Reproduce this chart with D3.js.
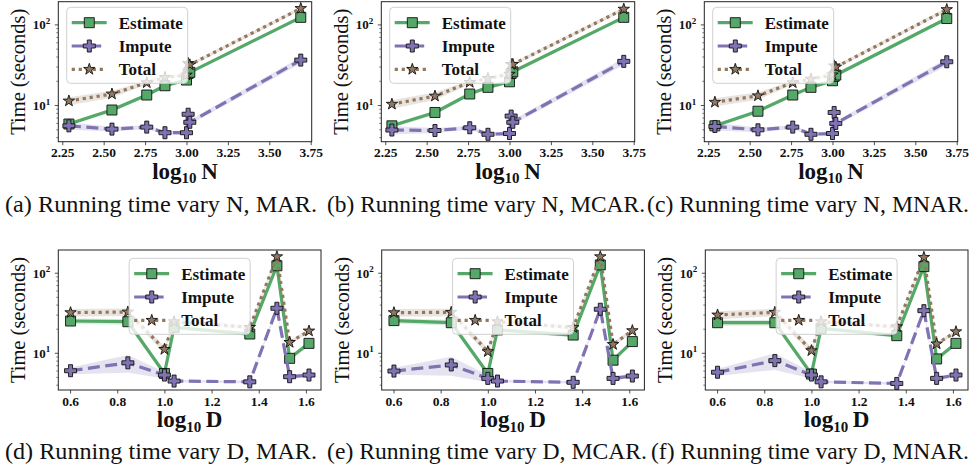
<!DOCTYPE html>
<html><head><meta charset="utf-8">
<script src="https://cdn.jsdelivr.net/npm/d3@7"></script>
<style>body{margin:0;background:#fff}svg{display:block}</style>
</head><body><svg id="c" width="972" height="470"></svg>
<script>
// ---------- data ----------
const xN = [2.29, 2.55, 2.76, 2.87, 3.00, 3.01, 3.02, 3.69];
const xD = [0.602, 0.845, 1.000, 1.041, 1.362, 1.477, 1.531, 1.613];
const xTicksN = [2.25, 2.50, 2.75, 3.00, 3.25, 3.50, 3.75];
const xTicksD = [0.6, 0.8, 1.0, 1.2, 1.4, 1.6];
const yTicks = [10, 100];
const seriesNames = ["Estimate", "Impute", "Total"];

const estNMar  = [5.9, 8.8, 13.5, 17.6, 20.7, 25.0, 25.8, 124];
const impNMar  = [5.6, 5.1, 5.4, 4.6, 4.6, 7.8, 6.2, 36.6];
const totNMar  = [11.4, 13.9, 19.2, 22.3, 23.9, 33.3, 32.0, 160];
const estNMcar = [5.6, 8.2, 13.9, 16.8, 19.7, 25.0, 26.2, 124];
const impNMcar = [4.97, 4.9, 5.3, 4.4, 4.5, 7.4, 6.2, 35.3];
const totNMcar = [10.4, 13.1, 19.4, 21.7, 24.5, 32.4, 32.4, 157];
const estNMnar = [5.6, 8.5, 13.5, 16.8, 20.3, 23.0, 23.9, 120];
const impNMnar = [5.5, 5.0, 5.4, 4.4, 4.5, 8.2, 6.0, 34.9];
const totNMnar = [11.0, 13.2, 19.2, 21.3, 24.0, 31.1, 30.0, 155];

const estDMar  = [25.3, 24.8, 5.6, 21.1, 17.4, 124, 8.65, 13.3];
const impDMar  = [6.06, 7.6, 5.35, 4.5, 4.4, 36.5, 5.1, 5.35];
const totDMar  = [32.2, 32.8, 11.2, 24.8, 21.1, 161, 13.7, 19.0];
const estDMcar = [25.6, 24.1, 5.6, 19.6, 16.9, 127, 8.2, 14.0];
const impDMcar = [6.0, 7.15, 4.86, 4.5, 4.34, 35.5, 4.86, 5.2];
const totDMcar = [32.2, 32.5, 10.5, 24.8, 21.0, 161, 12.9, 19.2];
const estDMnar = [24.1, 24.1, 5.5, 20.5, 16.6, 121, 8.5, 13.3];
const impDMnar = [5.8, 8.1, 5.35, 4.4, 4.2, 34.1, 4.86, 5.35];
const totDMnar = [30.1, 32.5, 10.8, 24.8, 21.5, 158, 13.1, 18.6];

// spread (std, seconds) for the shaded bands
const estSdN = [0.3, 0.5, 0.6, 0.8, 1.0, 1.2, 1.2, 6];
const impSdN = [0.6, 0.35, 0.3, 0.25, 0.25, 0.5, 0.4, 3.5];
const totSdN = [1.3, 1.4, 1.0, 1.0, 1.2, 1.5, 1.5, 8];
const estSdD = [2.0, 2.0, 0.4, 1.2, 1.0, 8, 0.6, 0.8];
const impSdD = [0.6, 1.9, 0.5, 0.15, 0.15, 2.5, 0.3, 0.3];
const totSdD = [3.5, 3.5, 1.0, 1.2, 1.2, 10, 0.8, 1.0];

const captions = [
  "(a) Running time vary N, MAR.", "(b) Running time vary N, MCAR.", "(c) Running time vary N, MNAR.",
  "(d) Running time vary D, MAR.", "(e) Running time vary D, MCAR.", "(f) Running time vary D, MNAR."];

// ---------- layout ----------
const colors = {Estimate: "#55A868", Impute: "#8172B3", Total: "#937860"};
const svg = d3.select("#c");
const serif = "'Liberation Serif','Times New Roman',serif";

const panels = [
  {x: xN, ys: [estNMar, impNMar, totNMar], sds: [estSdN, impSdN, totSdN], left: 58.3, top: 1.7, w: 253.4, row: 0, cap: 0, cx: 5, cw: 312},
  {x: xN, ys: [estNMcar, impNMcar, totNMcar], sds: [estSdN, impSdN, totSdN], left: 381.3, top: 1.7, w: 253.4, row: 0, cap: 1, cx: 327, cw: 318},
  {x: xN, ys: [estNMnar, impNMnar, totNMnar], sds: [estSdN, impSdN, totSdN], left: 704.3, top: 1.7, w: 253.4, row: 0, cap: 2, cx: 647, cw: 322},
  {x: xD, ys: [estDMar, impDMar, totDMar], sds: [estSdD, impSdD, totSdD], left: 58.3, top: 250, w: 262.7, row: 1, cap: 3, cx: 5, cw: 312},
  {x: xD, ys: [estDMcar, impDMcar, totDMcar], sds: [estSdD, impSdD, totSdD], left: 381.7, top: 250, w: 262.7, row: 1, cap: 4, cx: 327, cw: 320},
  {x: xD, ys: [estDMnar, impDMnar, totDMnar], sds: [estSdD, impSdD, totSdD], left: 705.3, top: 250, w: 262.7, row: 1, cap: 5, cx: 651, cw: 318}
];
const PH = 140;

function starPath(R) {
  const r = R * 0.381966; let p = [];
  for (let i = 0; i < 10; i++) {
    const a = -Math.PI / 2 + i * Math.PI / 5, rr = i % 2 ? r : R;
    p.push([rr * Math.cos(a), rr * Math.sin(a)]);
  }
  return "M" + p.map(q => q[0].toFixed(2) + "," + q[1].toFixed(2)).join("L") + "Z";
}
function plusPath(s) {
  const a = s / 2, b = s / 6;
  return `M${-b},${-a}H${b}V${-b}H${a}V${b}H${b}V${a}H${-b}V${b}H${-a}V${-b}H${-b}Z`;
}
const markerPath = {Estimate: "M-5,-5H5V5H-5Z", Impute: plusPath(12), Total: starPath(6)};
const dash = {Estimate: null, Impute: "12,5.5", Total: "3.2,3.8"};

panels.forEach((P, pi) => {
  const isN = P.row === 0;
  const x = d3.scaleLinear().domain(isN ? [2.226, 3.756] : [0.55, 1.664]).range([0, P.w]);
  const y = d3.scaleLog().domain(isN ? [3.56, 194] : [3.48, 195]).range([PH, 0]);
  const g = svg.append("g").attr("transform", `translate(${P.left},${P.top})`);
  const cid = "clip" + pi;
  g.append("clipPath").attr("id", cid).append("rect").attr("width", P.w).attr("height", PH);
  const plot = g.append("g").attr("clip-path", `url(#${cid})`);

  seriesNames.forEach((name, si) => {
    const vals = P.ys[si], sd = P.sds[si];
    const pts = P.x.map((xv, i) => ({x: xv, y: vals[i], lo: Math.max(vals[i] - sd[i], 0.1), hi: vals[i] + sd[i]}));
    plot.append("path").datum(pts)
      .attr("d", d3.area().x(d => x(d.x)).y0(d => y(d.lo)).y1(d => y(d.hi)))
      .attr("fill", colors[name]).attr("fill-opacity", 0.2);
    plot.append("path").datum(pts)
      .attr("d", d3.line().x(d => x(d.x)).y(d => y(d.y)))
      .attr("fill", "none").attr("stroke", colors[name]).attr("stroke-width", 3.2)
      .attr("stroke-dasharray", dash[name]).attr("stroke-linejoin", "round");
    plot.selectAll(null).data(pts).enter().append("path")
      .attr("transform", d => `translate(${x(d.x)},${y(d.y)})`)
      .attr("d", markerPath[name]).attr("fill", colors[name])
      .attr("stroke", "#111").attr("stroke-width", 0.9);
  });

  // axes
  const xAxis = d3.axisBottom(x).tickValues(isN ? xTicksN : xTicksD)
    .tickFormat(d3.format(isN ? ".2f" : ".1f")).tickSize(3.5).tickPadding(2.5);
  const xa = g.append("g").attr("transform", `translate(0,${PH})`).call(xAxis);
  xa.select(".domain").remove();
  xa.selectAll("text").attr("font-family", serif).attr("font-weight", "bold").attr("font-size", 13.5).attr("fill", "#111");
  xa.selectAll("line").attr("stroke", "#222").attr("stroke-width", 0.8);

  const minor = [];
  [1, 10, 100].forEach(dec => { for (let k = 2; k <= 9; k++) { const v = dec * k; if (v >= y.domain()[0] && v <= y.domain()[1]) minor.push(v); } });
  const ya = g.append("g");
  ya.selectAll(".mn").data(minor).enter().append("line")
    .attr("x1", 0).attr("x2", -2).attr("y1", d => y(d)).attr("y2", d => y(d))
    .attr("stroke", "#222").attr("stroke-width", 0.6);
  ya.selectAll(".mj").data(yTicks).enter().append("line")
    .attr("x1", 0).attr("x2", -3.5).attr("y1", d => y(d)).attr("y2", d => y(d))
    .attr("stroke", "#222").attr("stroke-width", 0.8);
  const tl = ya.selectAll(".tl").data(yTicks).enter().append("text")
    .attr("x", -8).attr("y", d => y(d) + 4.5).attr("text-anchor", "end")
    .attr("font-family", serif).attr("font-weight", "bold").attr("font-size", 13).attr("fill", "#111");
  tl.append("tspan").text("10");
  tl.append("tspan").attr("dy", -5.5).attr("font-size", 9).text(d => String(Math.round(Math.log10(d))));

  g.append("rect").attr("width", P.w).attr("height", PH).attr("fill", "none")
    .attr("stroke", "#222").attr("stroke-width", 1);

  // labels
  g.append("text").attr("transform", `translate(-40,${PH / 2}) rotate(-90)`)
    .attr("text-anchor", "middle").attr("dy", "0.35em")
    .attr("font-family", serif).attr("font-size", 20.5).attr("fill", "#111").text("Time (seconds)");
  const xl = g.append("text").attr("x", P.w / 2).attr("y", PH + 37).attr("text-anchor", "middle")
    .attr("font-family", serif).attr("font-weight", "bold").attr("font-size", 23).attr("fill", "#111");
  xl.append("tspan").text("log");
  xl.append("tspan").attr("dy", 4.5).attr("font-size", 15).text("10");
  xl.append("tspan").attr("dy", -4.5).text("\u2009" + (isN ? "N" : "D"));

  // legend
  const bw = 121, bh = 76;
  const bx = isN ? 8.4 : (P.w - bw) / 2, by = isN ? 5.6 : 8.3;
  const lg = g.append("g").attr("transform", `translate(${bx},${by})`);
  lg.append("rect").attr("width", bw).attr("height", bh).attr("rx", 4)
    .attr("fill", "#fff").attr("fill-opacity", 0.8).attr("stroke", "#d0d0d0").attr("stroke-width", 1);
  seriesNames.forEach((name, si) => {
    const ry = 15.4 + si * 23.3;
    lg.append("line").attr("x1", 5).attr("x2", 40).attr("y1", ry).attr("y2", ry)
      .attr("stroke", colors[name]).attr("stroke-width", 3.2).attr("stroke-dasharray", dash[name]);
    lg.append("path").attr("transform", `translate(22.6,${ry})`).attr("d", markerPath[name])
      .attr("fill", colors[name]).attr("stroke", "#111").attr("stroke-width", 0.9);
    lg.append("text").attr("x", 52).attr("y", ry + 6).attr("font-family", serif)
      .attr("font-weight", "bold").attr("font-size", 17).attr("fill", "#111").text(name);
  });

  // caption
  svg.append("text").attr("x", P.cx).attr("y", P.row === 0 ? 212 : 459)
    .attr("font-family", serif).attr("font-size", 23).attr("fill", "#111")
    .attr("textLength", P.cw).attr("lengthAdjust", "spacingAndGlyphs").text(captions[P.cap]);
});
</script></body></html>
